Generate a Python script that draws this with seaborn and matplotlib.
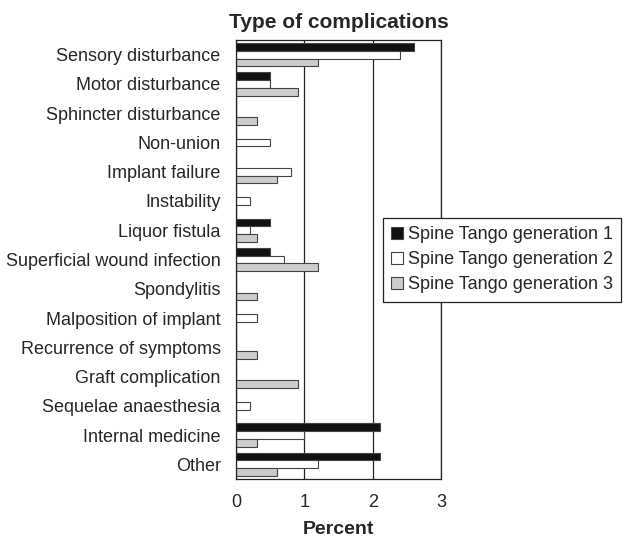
import pandas as pd
import matplotlib
matplotlib.use("Agg")
import matplotlib.pyplot as plt
import seaborn as sns

# ************* DATA *****************
categories = ["Sensory disturbance", "Motor disturbance", "Sphincter disturbance",
              "Non-union", "Implant failure", "Instability", "Liquor fistula",
              "Superficial wound infection", "Spondylitis", "Malposition of implant",
              "Recurrence of symptoms", "Graft complication", "Sequelae anaesthesia",
              "Internal medicine", "Other"]
gen1 = [2.6, 0.5, 0, 0, 0, 0, 0.5, 0.5, 0, 0, 0, 0, 0, 2.1, 2.1]
gen2 = [2.4, 0.5, 0, 0.5, 0.8, 0.2, 0.2, 0.7, 0, 0.3, 0, 0, 0.2, 1.0, 1.2]
gen3 = [1.2, 0.9, 0.3, 0, 0.6, 0, 0.3, 1.2, 0.3, 0, 0.3, 0.9, 0, 0.3, 0.6]
series = ["Spine Tango generation 1", "Spine Tango generation 2", "Spine Tango generation 3"]

df = pd.DataFrame({"category": categories * 3,
                   "value": gen1 + gen2 + gen3,
                   "series": [s for s in series for _ in categories]})

sns.set_style("white")
plt.rcParams['font.family'] = ['Liberation Sans', 'DejaVu Sans']

fig = plt.figure(figsize=(6.25, 5.4), dpi=100)
ax = fig.add_axes([236 / 625, 1 - 479 / 540, 205 / 625, 439 / 540])

palette = {series[0]: "#111111", series[1]: "#ffffff", series[2]: "#cccccc"}
sns.barplot(data=df, y="category", x="value", hue="series", palette=palette,
            orient="h", width=0.8, edgecolor="#444444", linewidth=0.8,
            saturation=1, ax=ax)

ax.set_xlim(0, 3)
ax.set_xticks([0, 1, 2, 3])
ax.set_ylim(len(categories) - 0.5, -0.5)
ax.grid(axis="x", color="#222222", linewidth=0.9)
ax.set_axisbelow(True)
for sp in ax.spines.values():
    sp.set_color("#222222")
    sp.set_linewidth(0.9)

# y ticks between categories, labels at centres
ax.set_yticks([i for i in range(len(categories))])
ax.set_yticklabels(categories, fontsize=13)
ax.tick_params(axis="y", length=0, pad=11)
ax.set_yticks([i - 0.5 for i in range(len(categories) + 1)], minor=True)
ax.tick_params(axis="y", which="minor", length=4, color="#222222", direction="out")
ax.tick_params(axis="x", length=4, color="#222222", direction="out",
               labelsize=13, pad=7)

ax.set_title("Type of complications", fontsize=15, fontweight="bold", pad=9)
ax.set_xlabel("Percent", fontsize=14, fontweight="bold", labelpad=7)
ax.set_ylabel("")

leg = ax.legend(loc="upper left", bbox_to_anchor=(383 / 625, 1 - 218 / 540),
                bbox_transform=fig.transFigure, borderaxespad=0,
                frameon=True, fancybox=False,
                fontsize=13, handlelength=0.65, handleheight=0.65,
                handletextpad=0.3, borderpad=0.45, labelspacing=0.45)
leg.get_frame().set_edgecolor("#222222")
leg.get_frame().set_linewidth(0.9)
leg.get_frame().set_alpha(1)

fig.savefig("out.png", dpi=100)
